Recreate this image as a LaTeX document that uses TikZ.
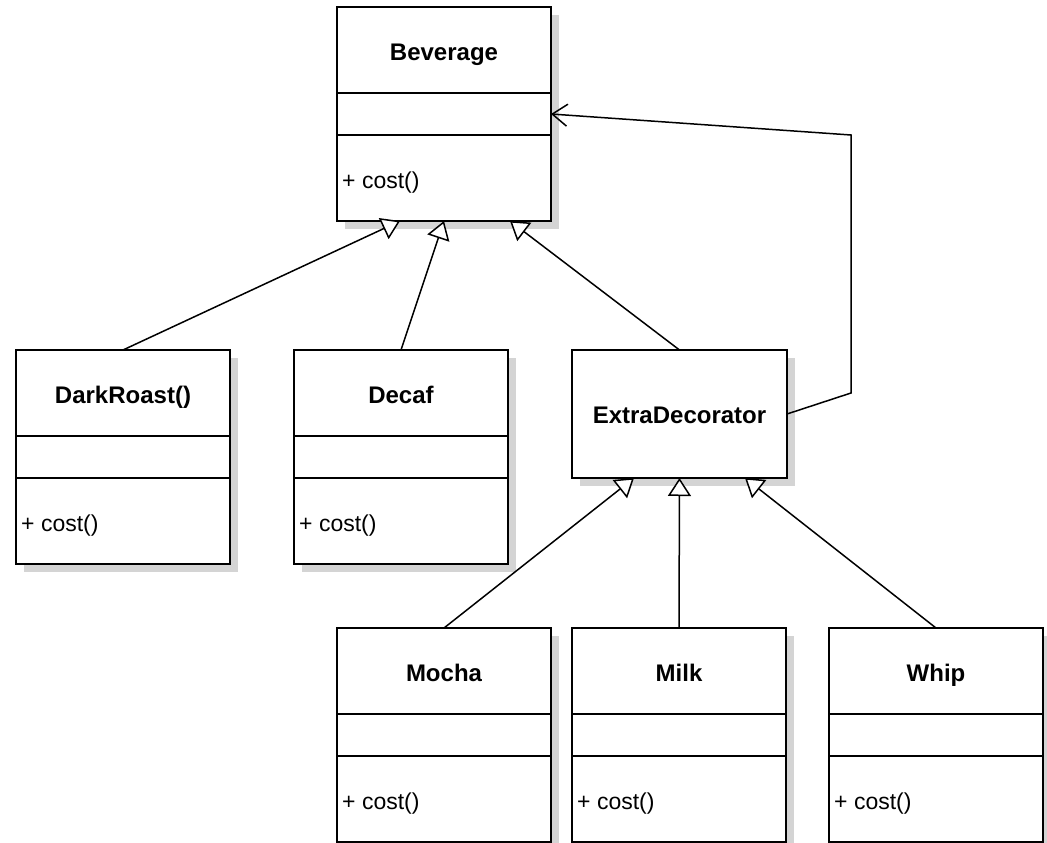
\documentclass[tikz,border=0pt]{standalone}
\usepackage{fontspec}
\setmainfont{Liberation Sans}
\usetikzlibrary{arrows.meta,shadows}

\tikzset{
  classbox/.style={draw=black, line width=1.6pt, fill=white, inner sep=0pt, outer sep=0pt,
    minimum width=214pt, minimum height=214pt, anchor=north west,
    drop shadow={shadow xshift=8pt, shadow yshift=-8pt, fill=black!17, opacity=1}},
  divider/.style={line width=1.5pt},
  titletext/.style={font=\fontsize{24}{28}\selectfont\bfseries, inner sep=0pt, anchor=base},
  methodtext/.style={font=\fontsize{23}{27}\selectfont, inner sep=0pt, anchor=base west},
  inherit/.style={line width=1.5pt, -{Triangle[length=18pt, width=23pt, fill=white, line width=1.5pt]}},
  assoc/.style={line width=1.5pt, -{Straight Barb[length=15pt, width=22pt, line width=1.5pt]}},
}

% class with name / attribute / operation compartments
\newcommand\umlclass[4]{%
  \node[classbox] (#1) at (#2,#3) {};
  \draw[divider] ([yshift=-86pt]#1.north west) -- ([yshift=-86pt]#1.north east);
  \draw[divider] ([yshift=-128pt]#1.north west) -- ([yshift=-128pt]#1.north east);
  \node[titletext] (#1-title) at ([yshift=-53pt]#1.north) {#4};
  \node[methodtext] (#1-op) at ([yshift=-181.5pt, xshift=5pt]#1.north west) {+ cost()};
}

\begin{document}
\begin{tikzpicture}[x=1pt, y=-1pt]
  \useasboundingbox (0,0) rectangle (1047,843);

  \umlclass{bev}{337}{7}{Beverage}
  \umlclass{dark}{16}{350}{DarkRoast()}
  \umlclass{decaf}{294}{350}{Decaf}

  \node[classbox, minimum width=215pt, minimum height=128pt] (extra) at (572,350) {};
  \node[titletext] (extra-title) at ([yshift=-73pt]extra.north) {ExtraDecorator};

  \umlclass{mocha}{337}{628}{Mocha}
  \umlclass{milk}{572}{628}{Milk}
  \umlclass{whip}{829}{628}{Whip}

  % generalizations
  \draw[inherit] (dark.north) -- ([xshift=63pt]bev.south west);
  \draw[inherit] (decaf.north) -- (bev.south);
  \draw[inherit] (extra.north) -- ([xshift=173pt]bev.south west);

  \draw[inherit] (mocha.north) -- ([xshift=62pt]extra.south west);
  \draw[inherit] (milk.north) -- (extra.south);
  \draw[inherit] (whip.north) -- ([xshift=173pt]extra.south west);

  % association back to the component
  \coordinate (bendlow) at (851,393);
  \coordinate (bendhigh) at (851,135);
  \draw[assoc] (extra.east) -- (bendlow) -- (bendhigh) -- (bev.east);
\end{tikzpicture}
\end{document}
